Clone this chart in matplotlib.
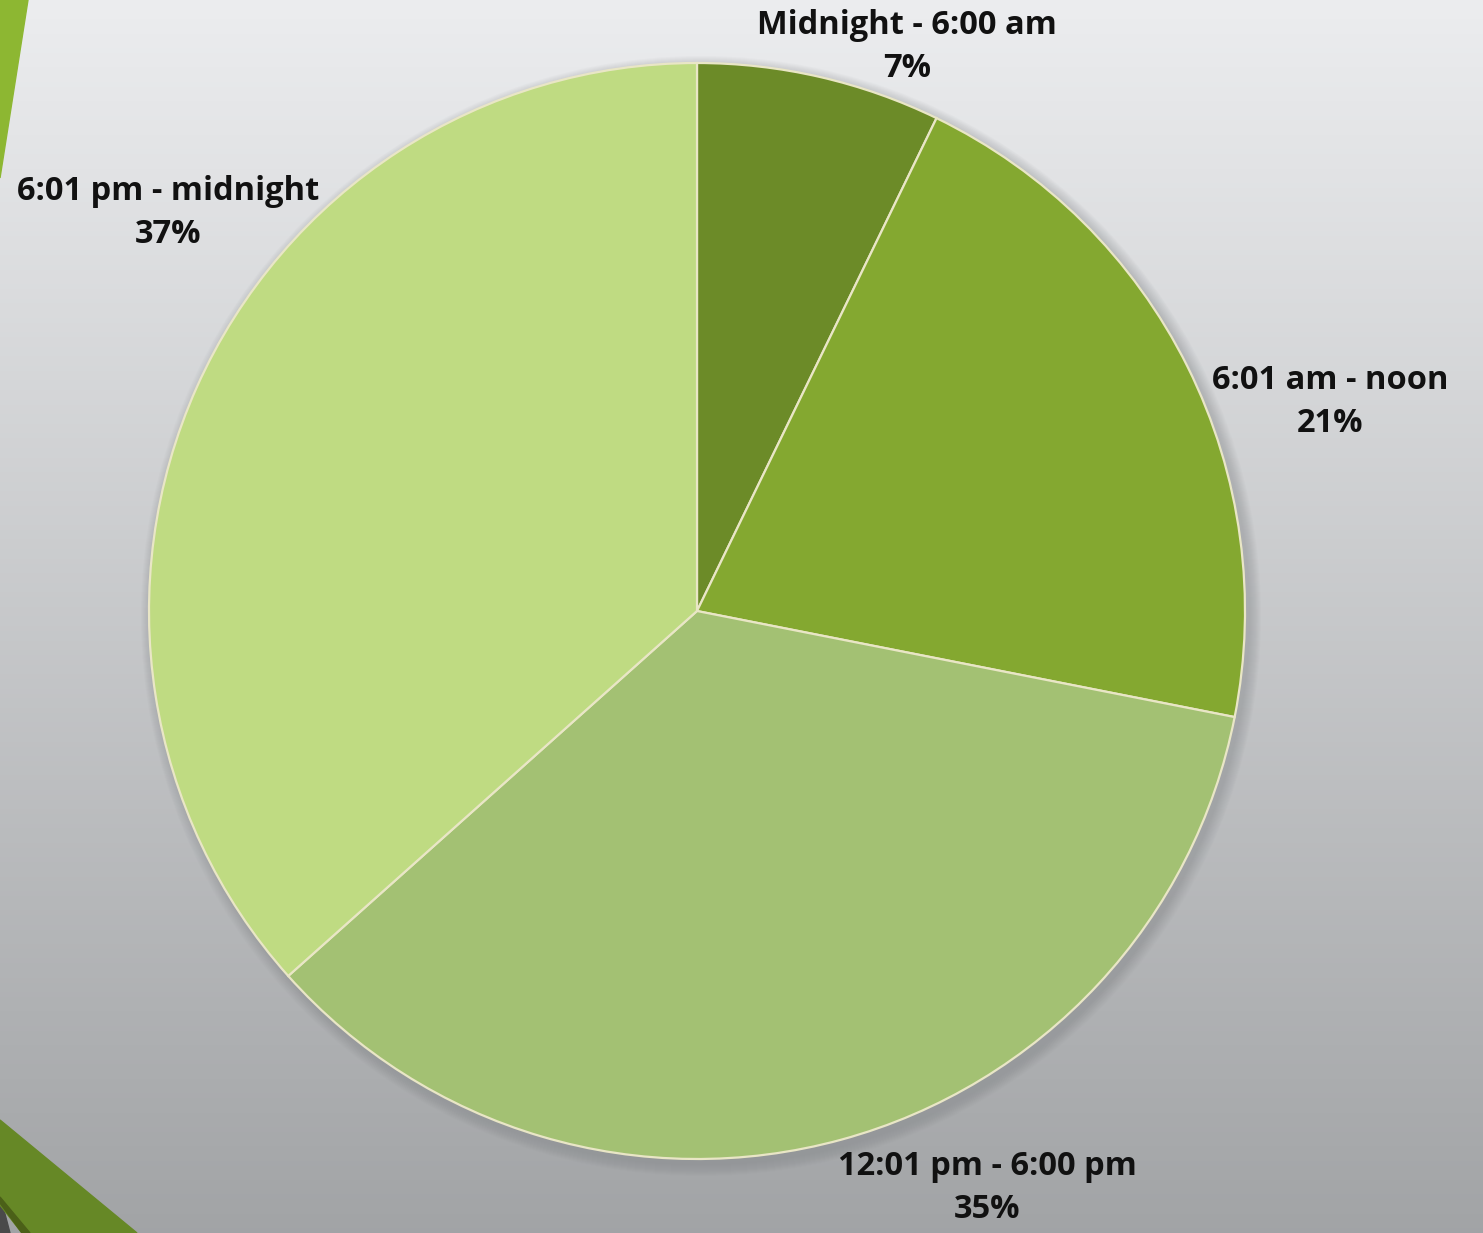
import numpy as np
import matplotlib
matplotlib.use('agg')
import matplotlib.pyplot as plt
from matplotlib.patches import Polygon, Circle

# data (shares, labels show rounded values)
categories = ["Midnight - 6:00 am", "6:01 am - noon", "12:01 pm - 6:00 pm", "6:01 pm - midnight"]
shares = [7.2, 20.9, 35.3, 36.6]
colors = ["#6c8b28", "#84a830", "#a3c173", "#bfdb82"]

W, H = 1483, 1233
fig = plt.figure(figsize=(W / 100, H / 100), dpi=100)
ax = fig.add_axes([0, 0, 1, 1])

# background gradient, light at top, darker grey at bottom
top = np.array([0.925, 0.929, 0.937])
bot = np.array([0.635, 0.643, 0.651])
t = np.linspace(0, 1, 256)[:, None]
grad = top * (1 - t) + bot * t
ax.imshow(grad[:, None, :].repeat(2, axis=1), extent=[0, W, 0, H],
          origin='upper', aspect='auto', zorder=0)

# slide decorations
ax.add_patch(Polygon([[0, H], [28, H], [0, H - 178]], closed=True,
                     color="#8db732", zorder=1))
ax.add_patch(Polygon([[0, 0], [0, H - 1195], [10, 0]], closed=True,
                     color="#4a4a4a", zorder=1))
ax.add_patch(Polygon([[0, H - 1120], [137, 0], [22, 0], [0, H - 1205]], closed=True,
                     color="#668826", zorder=1))
ax.add_patch(Polygon([[0, H - 1203], [22, 0], [30, 0], [0, H - 1197]], closed=True,
                     color="#4b6018", zorder=1))

cx, cy, r = 697, H - 611, 548

# soft shadow behind the pie
for k in range(12):
    ax.add_patch(Circle((cx + 4, cy - 5), r + 12 - k, color="#7f8285",
                        alpha=0.035, lw=0, zorder=2))

ax.pie(shares, colors=colors, startangle=90, counterclock=False,
       center=(cx, cy), radius=r, frame=True,
       wedgeprops=dict(edgecolor="#e9e6c6", linewidth=1.6, zorder=3))
ax.set_xlim(0, W)
ax.set_ylim(0, H)
ax.axis('off')

label_pos = [(907, 47), (1330, 402), (987, 1188), (168, 213)]
for name, val, (x, y) in zip(categories, shares, label_pos):
    ax.text(x, H - y, f"{name}\n{round(val)}%", ha='center', va='center',
            fontsize=23.5, fontweight='bold', family='Open Sans',
            color="#111111", linespacing=1.42, zorder=5)

plt.savefig("out.png", dpi=100)
